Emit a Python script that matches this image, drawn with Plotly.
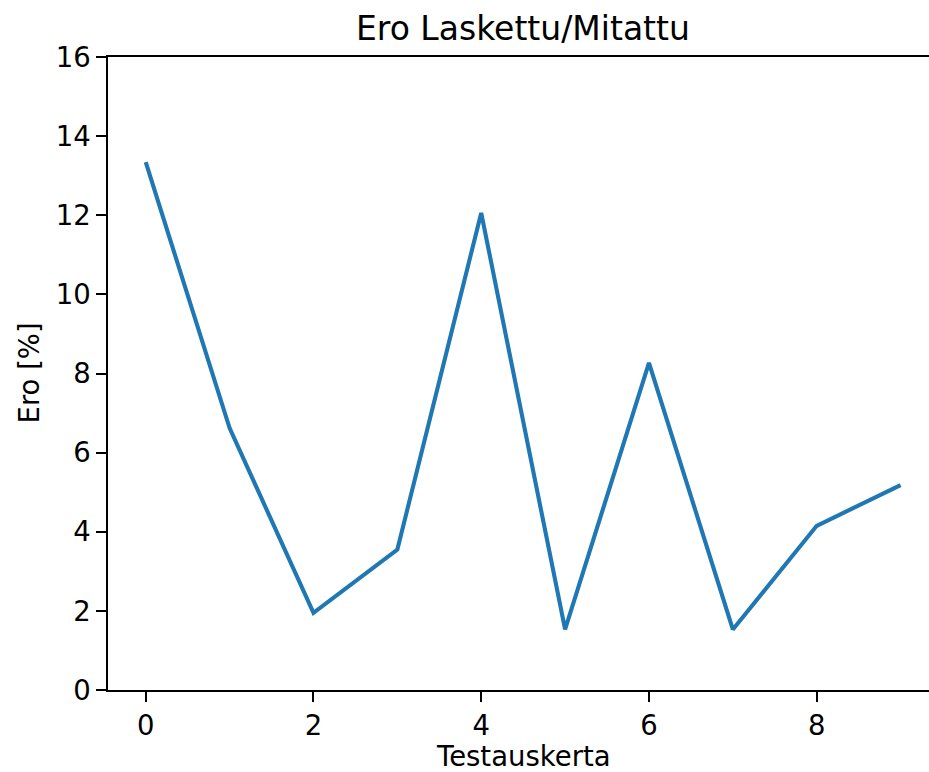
import plotly.graph_objects as go

# Test runs and the relative difference between computed and measured values
testauskerta = list(range(10))
ero_prosentti = [13.34, 6.62, 1.95, 3.55, 12.06, 1.53, 8.27, 1.53, 4.15, 5.18]

x_ticks = [0, 2, 4, 6, 8]
y_ticks = [0, 2, 4, 6, 8, 10, 12, 14, 16]

W, H = 929, 772
FONT = "DejaVu Sans"
TICK_SIZE = 27.5
TITLE_SIZE = 33

fig = go.Figure()
fig.add_trace(go.Scatter(
    x=testauskerta,
    y=ero_prosentti,
    mode="lines",
    line=dict(color="#1f77b4", width=4.1),
    showlegend=False,
))

axis_common = dict(
    showgrid=False,
    zeroline=False,
    showline=True,
    linecolor="black",
    linewidth=2.2,
    ticks="outside",
    ticklen=9.6,
    tickwidth=2.2,
    tickcolor="black",
    tickfont=dict(family=FONT, size=TICK_SIZE, color="black"),
)

fig.update_layout(
    width=W,
    height=H,
    margin=dict(l=108, r=0, t=57, b=82),
    paper_bgcolor="white",
    plot_bgcolor="white",
    xaxis=dict(
        **axis_common,
        range=[-0.45, 9.339],
        tickvals=x_ticks,
        ticktext=[str(v) for v in x_ticks],
        mirror=True,
    ),
    yaxis=dict(
        **axis_common,
        range=[0, 16],
        tickvals=y_ticks,
        ticktext=[str(v) for v in y_ticks],
        mirror=False,
    ),
    annotations=[
        dict(text="Ero Laskettu/Mitattu", xref="paper", yref="paper",
             x=(523 - 108) / (W - 108), y=1 + 7 / (H - 57 - 82),
             xanchor="center", yanchor="bottom", showarrow=False,
             font=dict(family=FONT, size=TITLE_SIZE, color="black")),
        dict(text="Testauskerta", xref="paper", yref="paper",
             x=(523 - 108) / (W - 108), y=-(756 - 690) / (H - 57 - 82),
             xanchor="center", yanchor="middle", showarrow=False, borderpad=0,
             font=dict(family=FONT, size=TICK_SIZE, color="black")),
        dict(text="Ero [%]", xref="paper", yref="paper",
             x=-(108 - 28) / (W - 108), y=0.5, textangle=-90,
             xanchor="center", yanchor="middle", showarrow=False,
             font=dict(family=FONT, size=TICK_SIZE, color="black")),
    ],
)

fig.write_html("out.html")
